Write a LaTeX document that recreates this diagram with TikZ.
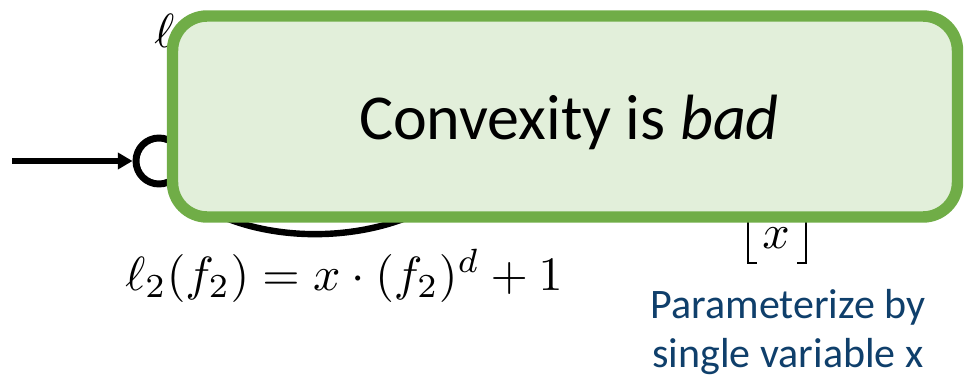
\documentclass[tikz,border=0pt]{standalone}
\usepackage{graphicx}
\usepackage{fontspec}
\setmainfont{Carlito}
\usetikzlibrary{arrows.meta}
\definecolor{boxfill}{HTML}{E2EFDA}
\definecolor{boxline}{HTML}{70AD47}
\definecolor{notetext}{HTML}{0F3F6B}
\newcommand{\bigmath}[1]{\scalebox{3.6}{$#1$}}
\tikzset{
  edgeline/.style={line width=4.3pt, black},
  mathlabel/.style={inner sep=0pt},
  notebox/.style={draw=boxline, fill=boxfill, line width=8.6pt, rounded corners=26pt},
  bluenote/.style={font=\fontsize{31.5}{37}\selectfont, text=notetext, align=center, inner sep=0pt}
}
\begin{document}
\begin{tikzpicture}[x=0.75pt,y=-0.75pt]
\useasboundingbox (0,0) rectangle (964,381);
% source node and incoming edge
\node[circle, draw, line width=5.2pt, minimum size=46*0.75pt, inner sep=0pt] (src) at (159,161) {};
\coordinate (start) at (12,161);
\coordinate (sink) at (465,181);
\draw[edgeline, -{Triangle[length=11pt,width=12pt]}] (start) -- (src.west);
\draw[edgeline, line width=4.8pt] (src.-60) to[out=-45,in=-135,looseness=0.85] (sink);
% labels
\node[mathlabel, anchor=base west] (l1) at (154,48) {\bigmath{\ell_1(f_1)}};
\node[mathlabel, anchor=base] (l2) at (344,290) {\bigmath{\ell_2(f_2) = x\cdot(f_2)^d + 1}};
% bracket vector
\node[mathlabel] (xv) at (776,238) {\bigmath{x}};
\coordinate (lbt) at (748,190);
\coordinate (lbb) at (748,263);
\coordinate (rbt) at (806,190);
\coordinate (rbb) at (806,263);
\draw[line width=1.6pt] (lbt) -- (lbb) -- ++(9,0);
\draw[line width=1.6pt] (rbt) -- (rbb) -- ++(-9,0);
% blue note
\node[bluenote] (note) at (788,332) {Parameterize by\\single variable x};
% overlay box
\node[notebox, minimum width=785*0.75pt, minimum height=201*0.75pt] (box) at (565,116.5) {};
\node[font=\fontsize{48}{52}\selectfont, anchor=base, inner sep=0pt] (boxtext) at (569,140) {Convexity is \textit{bad}};
\end{tikzpicture}
\end{document}
